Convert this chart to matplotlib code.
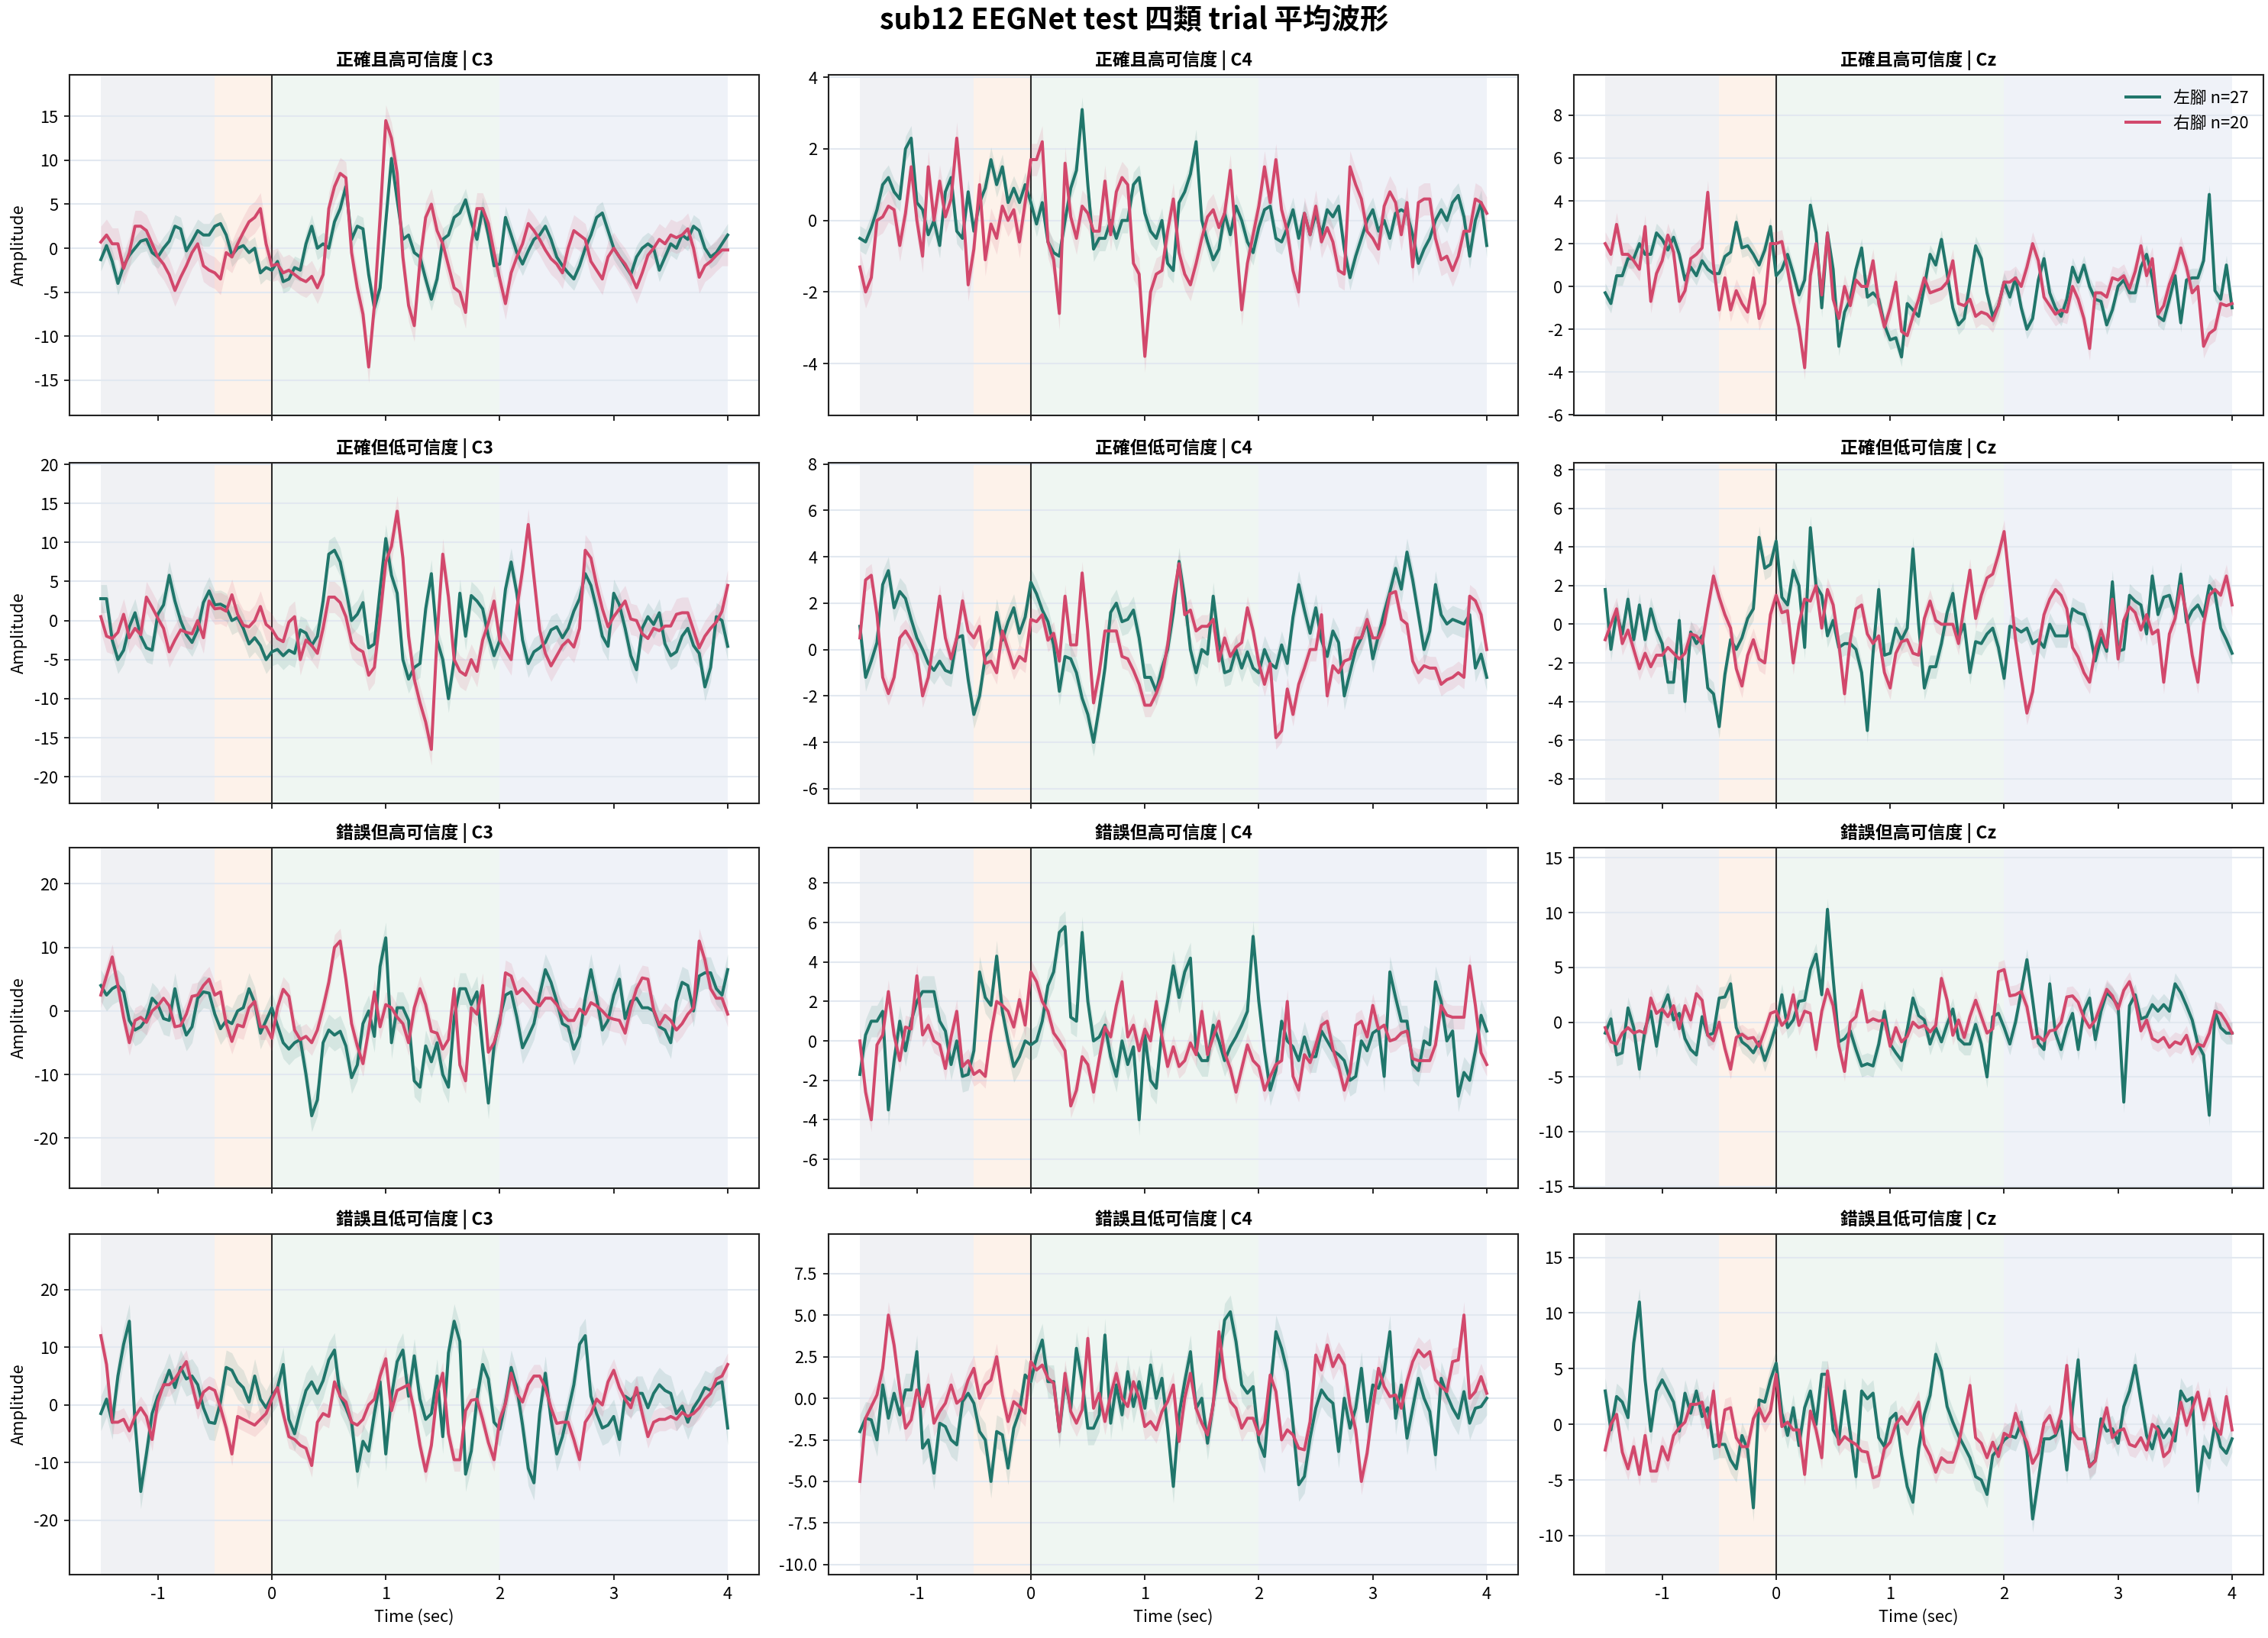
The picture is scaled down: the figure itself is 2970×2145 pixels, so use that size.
import numpy as np
import matplotlib.pyplot as plt
from matplotlib.ticker import MultipleLocator

plt.rcParams['font.family'] = ['Noto Sans CJK TC', 'DejaVu Sans']
plt.rcParams['axes.unicode_minus'] = False
plt.rcParams['font.size'] = 10.5

# labels
class_names = ["正確且高可信度", "正確但低可信度", "錯誤但高可信度", "錯誤且低可信度"]
channel_names = ["C3", "C4", "Cz"]
legend_labels = ["左腳 n=27", "右腳 n=20"]

# trial phases (sec)
phase_edges = [-1.5, -0.5, 0.0, 2.0, 4.0]

# averaged waveforms, one value every 0.05 s from -1.5 to 4.0 s
corr_high_c3_left = [
    -1.3, 0.3, -1.5, -4.0, -2.0, -0.8, 0.0, 0.8, 1.0, -0.5,
    -1.0, 0.0, 0.8, 2.5, 2.2, -0.3, 0.8, 2.0, 1.5, 1.5,
    2.5, 2.8, 1.5, -0.8, 0.0, 0.3, -0.5, 0.0, -2.8, -2.2,
    -2.5, -1.5, -3.8, -3.5, -2.2, -2.5, 0.5, 2.5, 0.0, 0.5,
    0.0, 3.0, 4.5, 7.0, 1.0, 2.5, 2.2, -3.0, -6.8, -4.5,
    3.0, 10.2, 5.5, 1.0, 1.5, -0.5, -1.0, -3.5, -5.8, -3.5,
    1.0, 1.5, 3.5, 4.0, 5.5, 3.0, 1.0, 4.5, 1.5, -2.0,
    -1.8, 3.5, 1.5, -0.5, -1.8, -0.3, 1.0, 1.5, 2.5, 1.0,
    -1.0, -2.0, -2.8, -3.5, -2.0, 0.0, 1.5, 3.5, 4.0, 2.0,
    0.0, -1.0, -2.0, -3.0, -1.0, 0.0, 0.5, 0.0, -2.5, -1.0,
    0.5, 0.0, 1.5, 1.0, 2.5, 2.0, 0.0, -1.0, -0.5, 0.5,
    1.5]
corr_high_c3_right = [
    0.7, 1.5, 0.5, 0.5, -2.3, -0.5, 2.5, 2.5, 2.0, 0.5,
    -1.0, -1.8, -3.0, -4.8, -3.3, -2.0, -0.5, 0.5, -2.0, -2.5,
    -2.8, -3.5, -0.5, -1.0, 0.5, 1.8, 3.0, 3.5, 4.5, 0.5,
    -2.0, -1.8, -2.8, -2.5, -3.0, -3.5, -3.8, -3.2, -4.5, -3.0,
    4.5, 7.0, 8.5, 8.0, -0.5, -4.5, -7.5, -13.5, -6.5, 3.5,
    14.5, 12.5, 8.5, -1.0, -6.5, -8.8, -1.5, 3.5, 5.0, 2.0,
    0.5, -2.0, -4.5, -5.0, -7.3, 0.5, 4.5, 4.5, 2.8, -0.5,
    -3.5, -6.3, -2.8, -1.0, 0.5, 2.8, 2.0, 1.0, -0.2, -1.2,
    -1.8, -2.8, 0.0, 2.0, 1.5, 1.0, -1.5, -2.5, -3.5, -1.0,
    0.0, -1.0, -1.8, -3.0, -4.5, -2.8, -0.8, 0.0, 1.0, 0.5,
    1.5, 1.2, 1.5, 2.2, 0.0, -3.3, -2.0, -1.5, -0.8, -0.2,
    -0.2]
corr_high_c4_left = [
    -0.5, -0.6, -0.2, 0.3, 1.0, 1.2, 0.8, 0.6, 2.0, 2.3,
    0.5, 0.3, -0.4, 0.0, -0.7, 0.8, 1.2, -0.3, -0.5, 0.8,
    -0.3, 0.5, 0.9, 1.7, 1.0, 1.5, 0.5, 0.9, 0.5, 1.0,
    0.5, -0.1, 0.5, -0.6, -0.9, -1.0, 0.0, 0.9, 1.4, 3.1,
    1.0, -0.8, -0.5, -0.5, 0.0, -0.5, 0.0, 0.0, 1.0, 1.2,
    0.2, -0.3, -0.5, 0.0, -1.2, -1.4, 0.5, 0.8, 1.3, 2.2,
    0.0, -0.6, -1.1, -0.8, 0.2, -0.4, 0.4, 0.0, -0.6, -0.9,
    -0.2, 0.3, 0.4, -0.5, -0.6, -0.2, 0.3, -0.5, 0.2, -0.4,
    0.2, -0.4, 0.3, 0.1, 0.4, -0.8, -1.6, -1.0, -0.5, 0.0,
    0.3, -0.3, 0.0, -0.5, 0.2, 0.3, 0.2, -0.4, -1.2, -0.8,
    -0.5, 0.0, 0.3, 0.0, 0.5, 0.7, 0.1, -1.0, 0.0, 0.5,
    -0.7]
corr_high_c4_right = [
    -1.3, -2.0, -1.6, 0.0, 0.1, 0.4, 0.3, -0.7, 0.2, 1.5,
    0.0, -1.0, 1.5, 0.0, 1.1, 0.1, 0.6, 2.3, 0.6, -1.8,
    -0.8, 1.0, -1.1, -0.1, -0.5, 0.4, 0.0, 0.3, -0.6, 0.5,
    1.7, 1.7, 2.2, -0.6, -1.1, -2.6, 1.6, 0.1, -0.5, 0.4,
    0.2, -0.3, -0.3, 1.1, -0.4, 0.8, 1.2, 1.0, -1.2, -1.5,
    -3.8, -2.0, -1.5, -1.4, -0.3, 0.6, -0.9, -1.5, -1.8, -1.2,
    -0.5, 0.1, 0.3, -0.2, 0.2, 1.4, -0.5, -2.5, -1.2, -0.4,
    0.4, 1.5, 0.5, 1.7, 0.3, -0.3, -1.4, -2.0, 0.2, -0.4,
    0.4, -0.6, -0.2, -0.6, -1.4, -1.5, 1.5, 1.0, 0.6, -0.3,
    -0.5, -0.8, 0.4, 0.8, 0.5, -0.4, 0.5, -1.3, 0.5, 0.6,
    0.6, -0.5, -1.1, -1.0, -1.4, -1.0, -0.3, -0.3, 0.6, 0.5,
    0.2]
corr_high_cz_left = [
    -0.3, -0.8, 0.5, 0.5, 1.3, 1.3, 2.0, 1.5, 1.5, 2.5,
    2.2, 1.7, 2.3, 1.5, 0.3, 0.9, 0.5, 1.2, 0.8, 0.6,
    0.6, 1.4, 1.6, 3.0, 1.8, 1.9, 1.5, 1.0, 1.7, 2.8,
    0.5, 0.8, 1.5, 0.6, -0.4, 0.3, 3.8, 2.5, -1.0, 2.5,
    0.8, -2.8, -1.2, -0.6, 0.8, 1.8, -0.5, -0.3, -0.6, -1.8,
    -2.5, -2.4, -3.3, -0.8, -1.1, -1.4, 0.0, 1.5, 1.0, 2.2,
    0.6, -1.0, -1.8, -1.5, 0.2, 1.9, 1.3, -0.3, -1.4, -0.9,
    0.2, -0.5, 0.4, -1.0, -2.0, -1.5, 0.3, 1.3, -0.3, -1.0,
    -1.4, -0.6, 0.9, 0.2, 1.0, 0.0, -0.6, -0.7, -1.8, -1.1,
    0.0, 0.3, -0.3, -0.3, 0.9, 1.5, 0.4, -1.4, -1.6, -0.6,
    0.5, -1.7, 0.3, 0.4, 0.4, 1.2, 4.3, -0.2, -0.6, 1.0,
    -1.0]
corr_high_cz_right = [
    2.0, 1.5, 2.9, 1.5, 1.5, 1.2, 0.8, 2.8, -0.7, 0.6,
    1.2, 2.4, 1.6, -0.7, -0.2, 1.3, 1.5, 1.8, 4.4, 1.0,
    -1.1, 0.4, -1.1, -0.2, -0.8, -1.2, 0.4, -1.5, -0.8, 2.0,
    2.0, 2.1, 0.8, -0.7, -1.9, -3.8, 0.5, 2.0, -0.4, 2.5,
    -0.6, -1.5, 0.0, -0.9, 0.3, 0.0, 0.0, 1.2, -0.8, -1.9,
    -1.0, 0.2, -2.1, -2.3, -1.4, -0.6, 0.4, -0.3, -0.2, -0.1,
    0.2, 1.2, -0.8, -0.9, -0.6, -1.4, -1.2, -1.3, -1.6, -0.9,
    0.2, 0.2, 0.4, 0.0, 0.9, 2.0, 1.2, -0.5, -0.9, -1.3,
    -1.1, -1.2, 0.0, -0.6, -1.5, -2.9, -0.3, -0.3, -0.5, 0.4,
    0.3, 0.5, -0.1, 0.7, 1.9, 0.5, 1.3, -1.3, -0.9, 0.1,
    0.8, 1.8, 0.9, -0.3, 0.0, -2.8, -2.2, -2.0, -0.8, -0.9,
    -0.8]

corr_low_c3_left = [
    2.8, 2.8, -2.5, -5.0, -3.8, -0.8, 1.0, -2.0, -3.5, -3.8,
    0.8, 2.0, 5.8, 2.5, 0.0, -1.8, -2.8, -1.2, 2.3, 3.8,
    2.0, 2.1, 1.7, 0.0, 0.4, -1.0, -3.0, -2.2, -3.2, -5.0,
    -4.0, -3.7, -4.5, -3.8, -4.2, -1.2, -1.6, -3.2, -2.0, 2.5,
    8.5, 9.0, 7.5, 4.0, 0.0, 0.8, 2.3, -3.5, -3.0, 4.0,
    10.5, 5.8, 3.5, -5.0, -7.5, -6.0, -5.5, 1.5, 6.0, -2.5,
    -5.0, -10.0, -5.0, 3.5, -2.0, 3.2, 2.5, 1.5, -2.0, -4.5,
    -2.5, 4.0, 7.5, 3.5, -2.5, -5.5, -4.0, -3.5, -2.8, -1.2,
    -0.8, -2.2, -1.0, 1.2, 2.8, 6.0, 4.5, 1.5, -2.0, -3.3,
    3.5, 2.0, -1.0, -4.5, -6.3, -1.0, 0.5, -0.5, 1.0, -3.0,
    -4.5, -4.0, -2.0, -1.0, -3.2, -4.2, -8.5, -6.0, 0.5, 0.0,
    -3.3]
corr_low_c3_right = [
    0.5, -2.0, -2.3, -1.5, 0.8, -2.2, -1.0, -1.8, 3.0, 1.7,
    0.3, -1.0, -4.0, -2.5, -1.2, -1.5, -1.7, 0.0, -2.2, 2.5,
    1.5, 1.6, 1.2, 3.3, 0.8, -0.6, -0.8, 0.0, 1.8, -0.5,
    -1.1, -2.3, -2.7, -0.2, 0.5, -5.0, -2.5, -3.2, -4.2, -1.0,
    3.0, 3.0, 2.3, 0.5, -2.8, -3.6, -4.0, -7.0, -6.0, 0.5,
    7.5, 9.5, 14.0, 8.0, -2.0, -7.5, -10.5, -13.0, -16.5, -2.0,
    8.5, 3.0, -5.0, -6.5, -7.0, -5.0, -6.5, -2.5, -0.3, 2.5,
    -2.5, -3.8, -5.0, 1.5, 6.5, 12.3, 5.5, -1.2, -4.2, -5.8,
    -4.5, -3.2, -2.5, -3.4, -1.0, 9.0, 8.0, 4.5, 1.5, -0.8,
    0.5, 1.5, 2.5, 0.2, 0.0, -1.7, -2.3, -1.0, -1.3, -0.7,
    -0.7, 0.8, 1.0, 1.0, -1.2, -3.5, -2.0, -1.0, -0.2, 1.2,
    4.5]
corr_low_c4_left = [
    1.0, -1.2, -0.5, 0.3, 2.8, 3.4, 1.8, 2.5, 2.2, 1.3,
    0.5, 0.0, -0.6, -0.9, -0.5, -0.9, -1.0, 0.5, 0.6, -1.3,
    -2.8, -2.0, -0.3, 0.0, 1.6, 0.4, 1.2, 1.8, 0.7, 1.4,
    2.9, 2.4, 1.7, 1.2, 0.2, -1.8, -0.3, -0.4, -1.0, -2.1,
    -2.8, -4.0, -2.5, -0.8, 1.6, 2.0, 1.2, 1.3, 1.7, 0.5,
    -1.2, -1.2, -1.8, -0.8, 0.0, 1.6, 3.8, 2.2, 0.0, -1.0,
    0.0, -0.2, 2.3, 0.3, -1.0, -0.9, 0.0, -0.8, -0.1, -0.8,
    -1.0, 0.0, -0.6, -0.8, 0.2, -0.6, 1.4, 2.8, 1.7, 0.7,
    1.8, 0.4, -0.3, 0.8, 0.3, -2.0, -1.0, 0.0, 0.5, 1.2,
    -0.4, 0.6, 1.6, 2.5, 3.5, 2.6, 4.2, 3.0, 1.5, 0.0,
    0.8, 2.8, 1.5, 1.1, 1.3, 1.2, 1.1, 1.5, -0.8, -0.2,
    -1.2]
corr_low_c4_right = [
    0.5, 3.0, 3.2, 1.5, -1.2, -1.9, -1.2, 0.5, 0.8, 0.4,
    -0.2, -2.0, -1.2, 0.5, 2.3, 0.5, -0.4, 0.5, 2.1, 0.8,
    0.5, 1.0, -0.6, -0.5, -1.0, 0.8, 0.0, -0.8, -0.3, -0.5,
    1.3, 1.2, 1.5, 0.4, 0.7, -0.5, 2.3, 0.2, 0.2, 3.3,
    0.8, -2.3, -1.0, 0.8, 0.8, 0.8, -0.3, -0.4, -0.9, -1.5,
    -2.4, -2.4, -1.9, -1.2, 0.2, 2.2, 3.7, 1.5, 1.7, 0.8,
    1.0, 1.0, 1.3, -0.5, 0.5, -0.3, 0.1, 0.3, 1.8, 0.8,
    -0.6, -1.5, -0.6, -3.8, -3.5, -1.7, -2.8, -1.5, -0.8, 0.0,
    0.0, 1.5, -2.0, -0.7, -1.0, -0.5, -0.4, 0.5, 0.5, 1.3,
    0.5, 0.5, 1.1, 2.4, 2.5, 1.3, 1.1, -0.5, -1.0, -0.7,
    -0.8, -0.8, -1.5, -1.3, -1.2, -1.0, -1.2, 2.3, 2.1, 1.5,
    0.0]
corr_low_cz_left = [
    1.8, -1.3, 0.6, -0.5, 1.3, -0.8, 1.0, -0.8, 0.8, -0.3,
    -1.0, -3.0, -3.0, 0.2, -4.0, -0.4, -1.0, -0.6, -3.3, -3.6,
    -5.3, -2.6, -0.8, -1.3, -0.7, 0.3, 0.8, 4.5, 2.9, 3.1,
    4.3, 1.4, 1.0, 2.8, 2.0, -1.2, 5.0, 2.0, 1.5, -0.6,
    0.2, -1.2, -1.0, -1.0, -1.3, -2.5, -5.5, -1.5, 1.8, -1.6,
    -1.5, -0.2, -0.8, -0.2, 3.9, 0.0, -3.3, -2.2, -2.2, -1.0,
    0.6, 1.6, -0.7, 0.0, -2.5, -0.9, -1.0, -0.5, -0.2, -1.2,
    -2.8, -0.1, -0.2, -0.4, -0.2, -1.0, -0.8, -1.2, 0.0, -0.6,
    -0.6, -0.6, 0.8, 0.6, 0.5, -0.4, -1.9, -0.7, -1.4, 2.2,
    -1.4, -1.3, 1.5, 1.2, 1.0, -0.5, 2.5, 0.5, 1.4, 1.5,
    0.5, 2.6, 0.1, 0.7, 1.0, 0.4, 2.0, 1.6, -0.2, -0.8,
    -1.5]
corr_low_cz_right = [
    -0.8, 0.0, 0.8, -1.0, -0.3, -1.3, -2.3, -1.5, -2.2, -1.6,
    -1.6, -1.2, -1.5, -1.8, -1.5, -0.5, -0.6, -1.0, 0.8, 2.5,
    1.4, 0.5, -0.2, -2.3, -3.2, -1.6, -0.8, -1.8, -2.0, 0.5,
    1.5, 0.6, 0.7, -2.0, 0.0, 1.3, 1.2, 2.0, -0.2, 1.8,
    1.0, -1.0, -3.6, -0.8, 0.8, 1.0, -0.5, -1.0, -0.6, -2.5,
    -3.3, -1.5, -0.9, -0.8, -1.5, -1.6, 0.3, 1.2, 0.2, 0.0,
    0.0, 0.0, -1.0, 1.0, 2.8, 0.3, 1.5, 2.4, 2.6, 3.6,
    4.8, 2.0, -0.8, -2.8, -4.6, -3.5, -1.2, 0.5, 1.3, 1.8,
    1.5, 0.8, -1.2, -1.7, -2.5, -3.0, -1.3, -0.3, -1.2, 1.3,
    -1.8, 0.2, 0.9, 0.6, -0.3, 0.5, -0.5, -0.3, -3.0, -0.5,
    0.3, 2.0, 0.5, -1.6, -3.0, 0.0, 1.5, 1.8, 1.5, 2.5,
    1.0]

wrong_high_c3_left = [
    4.0, 2.5, 3.5, 4.0, 3.0, -1.5, -3.0, -2.5, -1.2, 2.0,
    1.0, -1.2, -1.5, 3.5, -1.0, -3.8, -2.5, 2.0, 3.0, 2.8,
    -0.5, -2.8, -1.5, -2.0, 0.0, 0.5, 3.5, 1.3, -3.5, -1.5,
    0.5, -2.3, -5.0, -6.0, -5.0, -4.5, -10.0, -16.5, -14.0, -5.0,
    -3.0, -3.8, -3.2, -5.5, -10.5, -8.5, -2.0, 0.0, -4.0, 7.0,
    11.5, -5.0, 0.5, 0.5, -1.5, -11.0, -12.0, -5.5, -8.0, -5.0,
    -10.0, -12.0, -1.0, 3.5, 3.5, 1.0, 3.0, -6.0, -14.5, -5.5,
    -1.2, 2.5, 3.0, -1.0, -5.8, -4.0, -2.0, 2.5, 6.5, 4.5,
    1.5, -2.0, -2.5, -6.0, -4.0, 2.0, 6.5, 2.0, -3.0, -1.5,
    2.5, 5.0, -1.2, 1.5, 2.0, 0.5, 0.5, 0.0, -2.5, -3.0,
    -5.0, 1.5, 4.5, 4.0, 0.0, 5.5, 6.0, 6.0, 3.5, 2.5,
    6.5]
wrong_high_c3_right = [
    2.5, 5.5, 8.5, 4.0, -1.0, -5.0, -1.5, -1.0, -1.8, 0.0,
    0.8, 2.0, 0.8, -2.5, -2.3, -0.5, 2.3, 2.5, 4.0, 5.0,
    2.5, 3.0, -2.0, -4.8, -2.2, -2.5, 0.5, 1.5, -2.5, -2.5,
    -4.3, 0.5, 3.4, 2.3, -3.0, -4.5, -4.0, -5.0, -3.0, 0.5,
    4.5, 10.0, 11.0, 5.0, -2.0, -5.5, -8.3, -3.0, 3.0, -2.5,
    1.0, 0.5, -1.0, -2.0, -5.0, 0.5, 3.5, 1.0, -3.2, -3.5,
    -6.0, -4.5, 3.5, -8.5, -11.0, 0.5, -0.5, 4.0, -6.5, -5.0,
    -2.0, 6.0, 5.5, 2.7, 3.5, 2.5, 1.3, 0.8, 2.0, 2.0,
    1.0, -0.5, -1.5, -1.5, 0.3, -0.5, 1.3, 0.8, 0.0, -1.0,
    -1.3, -1.5, -3.5, 0.5, 3.5, 5.2, 5.0, 0.2, -2.2, -0.7,
    -1.5, -3.0, -2.0, -0.5, 0.5, 11.0, 8.0, 3.5, 2.0, 2.0,
    -0.5]
wrong_high_c4_left = [
    -1.7, 0.3, 1.0, 1.0, 1.5, -3.5, -1.0, 1.0, -0.5, 1.0,
    2.0, 2.5, 2.5, 2.5, 1.0, 0.5, -1.2, 0.0, -1.8, -1.7,
    -0.5, 3.5, 2.2, 1.8, 4.3, 1.5, 0.0, -1.3, -0.8, 0.0,
    -0.2, 0.0, 1.0, 2.8, 3.5, 5.5, 5.8, 1.2, 1.0, 5.5,
    2.0, 0.0, 0.2, 0.8, -0.8, -1.8, 0.0, -1.2, -0.3, -4.0,
    0.3, -2.0, -2.4, 0.5, 2.0, 3.8, 2.2, 3.5, 4.2, -0.5,
    -1.0, -1.0, 0.8, 0.0, -1.0, -0.3, 0.2, 0.8, 1.5, 5.3,
    2.0, -0.5, -2.5, -1.5, 1.0, 0.0, -0.3, -1.0, 0.2, -0.8,
    -0.8, 0.5, 0.0, -0.5, -0.7, -1.0, -2.0, -1.8, 0.0, -0.5,
    0.4, 0.6, -1.8, 3.5, 2.2, 1.0, 1.0, -1.2, -1.5, 0.0,
    -0.2, 3.0, 2.0, 0.0, 0.5, -2.8, -1.6, -2.0, -0.5, 1.3,
    0.5]
wrong_high_c4_right = [
    0.0, -2.6, -4.0, -0.2, 0.3, 2.5, 0.3, -1.0, 0.7, 0.6,
    3.3, 0.3, 0.8, 0.0, -0.2, -1.4, 0.2, 1.5, -1.3, -1.0,
    -1.7, -1.5, -1.8, 0.4, 2.0, 1.8, 1.5, 0.7, 2.1, 0.8,
    3.5, 3.0, 2.0, 1.5, 0.4, 0.0, -0.5, -3.3, -2.5, -0.8,
    -1.2, -2.6, -0.9, 0.7, 0.2, 1.8, 3.0, 0.2, 0.8, -0.5,
    0.6, 0.0, 2.0, 0.2, -1.3, -0.3, -1.3, -1.0, -0.1, -0.7,
    1.5, -0.7, 0.2, 1.0, -0.6, -1.4, -2.6, -1.4, -0.2, -1.0,
    -1.3, -2.5, -1.8, -1.2, -1.0, 2.0, -1.8, -2.5, -0.7, -1.1,
    -0.2, 0.8, 1.0, -0.4, -1.3, -2.5, -1.6, 0.8, 1.0, 0.2,
    1.8, 0.6, 0.8, 0.0, 0.1, 0.4, 0.5, -0.9, -1.0, -1.0,
    -1.0, -0.2, 1.8, 1.3, 1.2, 1.2, 1.2, 3.8, 1.8, -0.6,
    -1.2]
wrong_high_cz_left = [
    -1.0, 0.3, -3.0, -2.8, 1.3, -0.5, -4.3, -0.6, 1.0, -2.2,
    1.2, 2.5, 0.2, 0.8, -1.5, -2.5, -3.0, 0.5, -1.2, -1.0,
    2.2, 2.3, 3.5, -0.5, -1.8, -2.2, -2.8, -1.8, -3.5, -2.0,
    -0.3, 2.5, -0.5, 0.2, 1.9, 2.0, 4.8, 6.2, 2.5, 10.3,
    4.0, -1.8, -1.5, -0.8, -2.5, -4.0, -3.8, -4.0, -2.0, 1.0,
    -2.0, -2.8, -3.5, -0.7, 2.2, 0.6, 0.2, -2.0, -0.5, -1.8,
    -0.2, 1.2, -1.5, -2.0, -2.0, -0.2, -2.0, -5.0, 0.5, 0.8,
    -0.5, -2.0, 0.0, 2.8, 5.7, 2.0, -1.9, -2.5, 3.5, -1.0,
    -2.5, -0.5, 0.8, -2.5, 1.0, 2.2, -1.6, 1.0, 2.7, 2.2,
    1.5, -7.3, 1.5, 2.5, 0.3, 0.5, 1.6, 1.0, 1.6, 1.0,
    3.5, 2.7, 1.5, 0.2, -2.0, -3.0, -8.5, 1.0, -0.5, -1.0,
    -1.0]
wrong_high_cz_right = [
    -0.5, -1.8, -2.0, -1.0, -0.5, -1.0, -0.8, -1.0, 2.2, 0.8,
    1.2, 0.5, 1.5, -0.6, 1.5, 0.2, 2.6, 2.0, -1.2, -1.7,
    0.0, -2.4, -4.3, -1.4, -1.1, -1.5, -1.4, -2.2, -0.8, 0.8,
    1.0, -0.3, 0.3, 2.5, -0.3, 1.0, 0.8, -2.5, 1.0, 3.0,
    1.5, -2.2, -4.5, 0.0, 0.5, 2.9, 0.0, 0.3, 0.1, 0.2,
    -2.2, -0.5, -1.8, -1.3, 0.0, -0.5, -0.3, -0.9, -0.3, 4.0,
    2.0, -1.2, 0.2, -1.4, 0.5, 2.0, 0.5, -1.0, -0.6, 4.6,
    4.8, 2.4, 2.5, 2.8, 1.4, -1.5, -1.3, -1.7, -0.8, -0.7,
    0.0, 2.3, 2.4, 1.8, 0.4, -0.5, 0.2, 1.6, 3.0, 2.4,
    1.2, 2.9, 3.7, 2.0, -0.8, 0.2, -1.5, -1.8, -1.4, -2.3,
    -1.8, -2.0, -1.2, -2.9, -2.0, -2.2, -1.0, 1.0, 0.8, 0.0,
    -1.0]

wrong_low_c3_left = [
    -1.5, 1.0, -3.0, 5.0, 10.5, 14.5, -3.0, -15.0, -8.5, -1.5,
    1.5, 3.3, 6.0, 3.0, 6.5, 4.5, 5.0, 3.5, -0.5, -3.0,
    -3.2, 0.5, 6.5, 6.0, 4.0, 3.0, 0.5, 5.0, 1.0, -0.5,
    1.5, 3.0, 7.0, -2.5, -5.0, -1.0, 2.5, 4.0, 2.0, 4.2,
    7.8, 9.5, 1.5, -0.5, -3.0, -11.5, -6.3, -8.0, -1.5, 4.0,
    -8.5, 1.5, 7.5, 9.5, 1.5, 8.5, 1.0, -2.5, -1.5, 5.0,
    -5.5, 9.0, 14.5, 11.0, -12.0, -8.0, 1.0, 7.0, 4.5, -3.0,
    -4.2, 0.5, 6.5, 3.0, -3.5, -11.0, -13.5, -1.5, 5.5, -2.5,
    -8.5, -5.5, -1.0, 3.5, 10.5, 12.0, 1.5, -1.5, -4.0, -3.5,
    -2.0, -6.0, 1.5, 0.8, 2.0, 2.0, -0.5, 2.0, 3.5, 2.5,
    2.0, -1.5, -0.2, -3.0, -0.5, 1.0, 3.0, 2.5, 3.6, 4.0,
    -4.0]
wrong_low_c3_right = [
    12.0, 7.0, -3.0, -3.0, -2.5, -4.5, -2.0, -0.5, -2.0, -6.0,
    0.5, 3.5, 3.5, 4.5, 6.0, 7.5, 3.5, -0.5, 2.2, 3.0,
    2.5, -0.5, -4.0, -8.5, -2.0, -2.5, -3.0, -3.5, -2.5, -1.5,
    1.0, 3.0, -1.5, -5.5, -6.0, -7.0, -7.5, -10.5, -3.0, -1.5,
    -2.0, 4.0, 1.5, 0.5, -3.0, -3.5, -2.5, 0.0, 1.0, 5.0,
    8.0, -1.0, 2.5, 3.0, 3.5, -1.0, -7.0, -11.5, -7.0, 2.0,
    5.5, -5.0, -9.5, -9.5, -1.0, 0.8, 1.0, -2.5, -6.5, -9.5,
    -2.5, 0.2, 5.5, 2.0, 0.5, 3.5, 5.0, 5.0, 3.0, -0.5,
    -3.2, -3.0, -3.0, -6.0, -9.5, -3.0, -1.5, 1.0, 0.0, 4.0,
    6.0, 3.0, 1.0, -0.5, 3.0, -1.5, -5.5, -3.0, -2.5, -2.5,
    -2.0, -2.5, -1.3, -2.0, -1.5, -0.5, 1.0, 2.0, 4.5, 5.0,
    7.0]
wrong_low_c4_left = [
    -2.0, -1.2, -1.3, -2.5, 0.8, -1.2, 0.3, -1.0, 0.5, 0.5,
    2.8, -3.0, -2.5, -4.5, -1.5, -1.7, -2.5, -2.8, -0.2, 0.3,
    -0.3, -2.0, -2.5, -5.0, -2.0, -2.2, -4.2, -1.8, -0.8, 1.4,
    1.0, 2.5, 3.5, 1.0, 1.0, -2.0, 1.0, -0.6, 3.0, 1.0,
    -1.8, -1.8, -1.0, 3.8, -1.5, 0.8, -1.0, 1.6, -0.5, 1.0,
    -0.6, 2.0, 0.0, 1.2, -1.8, -5.3, -1.0, 1.0, 2.8, -0.6,
    0.0, -2.7, -0.3, 2.0, 4.7, 5.2, 3.4, 0.8, 0.3, 0.7,
    -2.6, -3.5, 0.5, 4.0, 3.0, 1.6, -1.6, -5.2, -4.7, -2.4,
    -0.6, 0.5, 0.0, -0.3, -3.2, 0.0, -1.8, -0.6, 1.8, -1.4,
    0.8, 0.6, 1.6, 4.0, -1.2, 0.8, -2.4, -0.6, 1.2, 0.0,
    -0.8, -3.4, 1.2, 0.2, -0.6, -1.2, 0.4, -1.5, -0.6, -0.5,
    0.0]
wrong_low_c4_right = [
    -5.0, -1.2, -0.5, 0.2, 1.8, 5.0, 3.2, 0.5, -1.8, -1.3,
    0.5, -0.5, 0.8, -1.5, -0.8, -0.3, 0.8, -0.3, 0.0, 1.1,
    1.8, 0.0, 0.8, 1.1, 2.5, 0.2, -1.4, -0.2, -0.5, -0.9,
    2.2, 1.7, 2.0, 1.2, 0.9, -2.0, 1.5, -0.8, -1.5, -0.7,
    3.6, -0.6, 0.3, -1.4, 0.2, 1.5, 0.0, -0.5, 1.0, 0.0,
    -1.7, -1.4, -1.9, -0.8, -0.2, 0.8, -2.6, 0.0, 1.5, -0.6,
    -1.5, -2.2, -0.4, 4.0, 1.2, -0.2, -0.6, -1.8, -1.2, -1.2,
    -2.2, -1.5, 1.4, 0.4, -2.5, -1.9, -2.2, -3.0, -3.1, -1.4,
    2.6, 1.7, 3.2, 1.9, 2.6, 2.0, -0.4, -1.9, -5.0, -3.3,
    -0.6, 1.8, 0.7, 0.1, 0.2, -0.6, 1.0, 2.2, 2.9, 2.5,
    2.8, 1.1, 0.7, 0.4, 2.2, 2.3, 5.0, 0.0, 0.4, 1.3,
    0.3]
wrong_low_cz_left = [
    3.0, -0.5, 2.5, 2.0, 0.6, 7.3, 11.0, 4.0, -0.6, 3.0,
    4.0, 3.0, 2.0, -0.6, 2.8, 1.0, 3.0, 0.7, 1.5, -2.0,
    -1.8, -1.8, -3.2, -4.0, -1.0, -2.3, -7.5, 2.2, 2.0, 4.0,
    5.5, 1.0, -1.0, 1.5, -1.9, 1.5, 3.0, 0.0, 4.5, 4.5,
    -0.5, -1.4, 3.0, -0.8, -4.7, 3.0, 2.3, 2.8, -1.2, -2.0,
    0.5, 1.0, -2.7, -5.6, -7.0, -2.2, 0.9, 2.6, 6.3, 4.8,
    1.6, 0.2, -1.0, -2.0, -3.0, -4.7, -5.0, -6.3, -2.8, -2.2,
    -1.4, -1.0, -1.2, 0.2, -2.3, -8.5, -5.0, -1.3, -1.3, -1.0,
    0.3, -4.1, 1.4, 5.8, -1.0, -3.8, -3.2, 0.5, -0.6, -0.4,
    -1.7, 1.6, 3.0, 5.3, 2.1, -1.0, -2.2, -0.2, -1.2, -0.4,
    -1.5, 3.0, 2.1, 2.4, -6.0, -2.0, -3.0, 0.1, -2.0, -2.6,
    -1.3]
wrong_low_cz_right = [
    -2.3, 0.0, 0.9, -2.5, -4.0, -2.0, -4.5, -1.0, -4.2, -4.2,
    -2.0, -3.2, -1.0, -0.3, 0.2, 1.8, 1.8, 2.0, -0.3, 3.0,
    -2.0, 1.3, 1.5, -1.2, -2.0, -2.0, 0.5, 1.5, 0.3, 1.2,
    4.5, -0.2, 0.2, -0.5, -0.5, -4.5, 1.2, -0.5, -3.0, 4.8,
    1.5, -1.8, -1.1, -1.5, -1.8, -2.4, -2.5, -4.8, -4.6, -2.2,
    -1.6, 0.0, 0.7, 0.0, 1.0, 2.0, -1.8, -2.8, -4.3, -3.0,
    -3.4, -3.4, -1.8, 0.8, 3.5, -1.2, -1.7, -3.0, -1.6, -2.9,
    -0.8, -1.1, 1.0, -0.6, -1.6, -3.5, -2.6, 0.1, 0.8, -0.8,
    1.0, 5.3, -0.6, -1.3, -1.3, -3.8, -3.3, -0.4, 1.5, -1.2,
    -0.6, -0.4, -1.8, -2.0, -1.2, -2.3, 0.0, -0.5, -2.9, -2.4,
    -0.4, 2.0, -0.1, 1.4, 2.9, 0.4, 2.3, -0.2, -0.9, 2.5,
    -0.5]

# approximate half-width of the shaded error band (left, right) per panel
band_c3 = [(1.3, 1.8), (1.8, 2.0), (2.5, 2.0), (3.0, 2.0)]
band_c4 = [(0.35, 0.45), (0.6, 0.5), (0.8, 0.6), (1.0, 0.8)]
band_cz = [(0.45, 0.55), (0.6, 0.6), (1.0, 0.9), (1.2, 1.0)]

# y ranges and tick steps as shown in the figure
ylim_c3 = [(-19.0, 19.7), (-23.4, 20.2), (-27.9, 25.7), (-29.4, 29.6)]
ylim_c4 = [(-5.45, 4.07), (-6.63, 8.05), (-7.47, 9.8), (-10.6, 9.87)]
ylim_cz = [(-6.03, 9.89), (-9.27, 8.36), (-15.16, 15.93), (-13.5, 17.1)]
ystep_c3 = [5, 5, 10, 10]
ystep_c4 = [2, 2, 2, 2.5]
ystep_cz = [2, 2, 5, 5]

waves = [
    [(corr_high_c3_left, corr_high_c3_right), (corr_high_c4_left, corr_high_c4_right), (corr_high_cz_left, corr_high_cz_right)],
    [(corr_low_c3_left, corr_low_c3_right), (corr_low_c4_left, corr_low_c4_right), (corr_low_cz_left, corr_low_cz_right)],
    [(wrong_high_c3_left, wrong_high_c3_right), (wrong_high_c4_left, wrong_high_c4_right), (wrong_high_cz_left, wrong_high_cz_right)],
    [(wrong_low_c3_left, wrong_low_c3_right), (wrong_low_c4_left, wrong_low_c4_right), (wrong_low_cz_left, wrong_low_cz_right)],
]
bands = [band_c3, band_c4, band_cz]
ylims = [ylim_c3, ylim_c4, ylim_cz]
ysteps = [ystep_c3, ystep_c4, ystep_cz]

# style
line_colors = ["#20766b", "#d2486c"]
phase_colors = ["#f0f1f4", "#fdf2ea", "#eff6f2", "#eff2f8"]

W, H = 2970, 2145
fig = plt.figure(figsize=(W / 150, H / 150), dpi=150)
fig.suptitle("sub12 EEGNet test 四類 trial 平均波形", fontsize=18, fontweight="bold", y=0.997)

col_left = [91, 1085, 2061]
col_width = 903
row_top = [98, 606, 1110, 1616]
row_height = 446

for r in range(4):
    for c in range(3):
        ax = fig.add_axes([col_left[c] / W, 1 - (row_top[r] + row_height) / H,
                           col_width / W, row_height / H])
        for i in range(4):
            ax.axvspan(phase_edges[i], phase_edges[i + 1], color=phase_colors[i], lw=0, zorder=0)
        ax.axvline(0, color="#2b2b2b", lw=1.0, zorder=1)

        for s in range(2):
            y = np.array(waves[r][c][s])
            t = np.linspace(-1.5, 4.0, len(y))
            half = bands[c][r][s]
            ax.fill_between(t, y - half, y + half, color=line_colors[s], alpha=0.12, lw=0, zorder=2)
            ax.plot(t, y, color=line_colors[s], lw=1.9, label=legend_labels[s], zorder=3)

        ax.set_xlim(-1.775, 4.275)
        ax.set_ylim(*ylims[c][r])
        ax.yaxis.set_major_locator(MultipleLocator(ysteps[c][r]))
        ax.set_xticks([-1, 0, 1, 2, 3, 4])
        ax.grid(axis="y", color="#e2e8f0", lw=1.0, zorder=0.5)
        ax.set_axisbelow(True)
        for sp in ax.spines.values():
            sp.set_linewidth(1.0)
            sp.set_color("#222222")
        ax.set_title(f"{class_names[r]} | {channel_names[c]}", fontsize=11, fontweight="bold", pad=6)
        if c == 0:
            ax.set_ylabel("Amplitude")
        if r == 3:
            ax.set_xlabel("Time (sec)")
        else:
            ax.tick_params(axis="x", labelbottom=False)
        if r == 0 and c == 2:
            ax.legend(loc="upper right", frameon=False, fontsize=10.5, handlelength=2.0)

fig.savefig("out.png", dpi=150)
